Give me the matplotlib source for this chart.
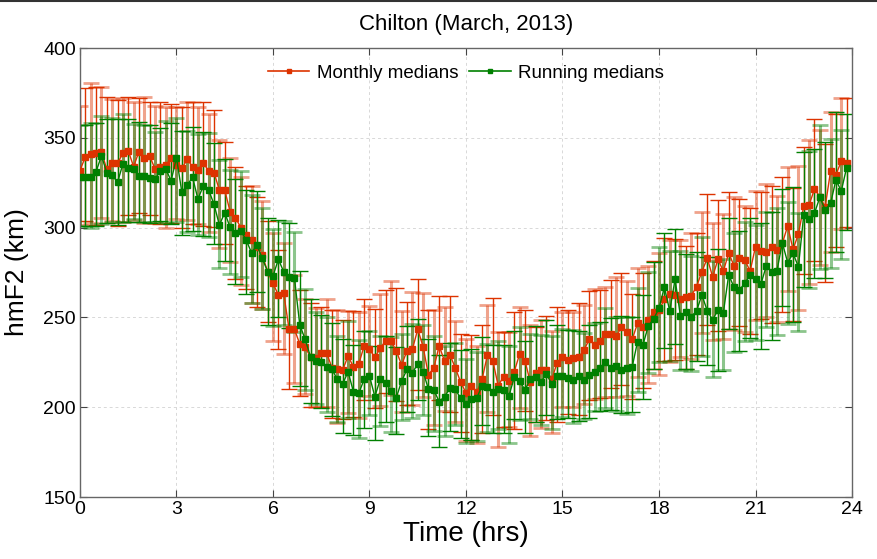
import numpy as np
import matplotlib
matplotlib.use("Agg")
import matplotlib.pyplot as plt
from matplotlib.lines import Line2D

# 10-minute samples over one day (0 .. 23h50)
hours = np.arange(144) / 6.0

# Monthly medians (km), 12 values per 2-hour row
monthly = [
    331.7, 339.5, 340.8, 341.4, 342.3, 332.5, 335.8, 335.8, 341.4, 342.8, 334.0, 342.3,
    338.6, 339.9, 332.6, 333.9, 334.9, 338.6, 335.0, 333.0, 338.0, 333.9, 332.1, 336.1,
    331.5, 330.6, 320.9, 320.9, 308.9, 305.5, 300.0, 296.0, 293.0, 289.0, 284.7, 275.5,
    269.0, 262.5, 263.4, 243.4, 243.4, 235.2, 233.3, 228.1, 227.2, 230.0, 230.3, 222.0,
    221.2, 220.7, 228.5, 222.5, 224.1, 234.1, 232.2, 227.8, 232.8, 237.0, 237.0, 231.3,
    223.5, 231.5, 232.2, 243.4, 233.7, 218.0, 222.0, 234.1, 225.7, 229.1, 222.0, 214.0,
    208.0, 212.0, 208.3, 215.5, 229.1, 225.9, 212.0, 217.0, 214.8, 219.8, 229.6, 225.9,
    213.9, 218.9, 220.7, 220.7, 215.5, 224.8, 228.1, 226.3, 227.2, 227.8, 231.8, 237.8,
    234.6, 237.0, 240.8, 240.8, 239.6, 244.5, 242.0, 237.8, 246.7, 244.5, 248.5, 253.2,
    254.1, 260.0, 263.0, 262.5, 260.0, 261.5, 262.0, 267.1, 275.5, 282.9, 272.7, 282.3,
    275.8, 285.7, 278.8, 283.2, 282.0, 275.8, 289.4, 287.1, 286.2, 289.0, 287.5, 291.2,
    300.9, 287.9, 296.4, 312.0, 312.6, 321.5, 317.2, 311.6, 331.5, 329.3, 337.1, 336.2,
]
monthly_up = [
    36, 38, 40, 37, 36, 40, 36, 35, 31, 30, 36, 30,
    34, 30, 35, 36, 32, 30, 32, 34, 32, 36, 35, 34,
    32, 35, 28, 27, 30, 28, 28, 27, 30, 28, 30, 28,
    28, 25, 28, 30, 30, 30, 27, 30, 28, 26, 30, 32,
    33, 28, 25, 31, 29, 26, 24, 27, 30, 28, 33, 35,
    30, 27, 32, 28, 30, 36, 32, 28, 30, 33, 26, 27,
    30, 28, 26, 30, 28, 35, 30, 25, 27, 33, 26, 28,
    32, 26, 28, 30, 27, 31, 25, 28, 26, 30, 25, 27,
    31, 28, 26, 30, 33, 30, 28, 25, 31, 30, 30, 28,
    32, 34, 30, 31, 33, 28, 35, 30, 33, 36, 30, 33,
    32, 34, 38, 33, 30, 35, 31, 33, 38, 34, 30, 37,
    33, 34, 38, 33, 36, 39, 37, 35, 33, 34, 35, 36,
]
monthly_dn = [
    30, 36, 38, 40, 37, 30, 32, 35, 38, 36, 30, 34,
    36, 33, 30, 32, 35, 36, 30, 33, 34, 32, 30, 35,
    34, 30, 32, 30, 28, 34, 32, 30, 35, 33, 30, 28,
    32, 30, 34, 33, 30, 29, 26, 28, 27, 30, 30, 28,
    30, 27, 32, 28, 30, 30, 26, 28, 32, 29, 30, 28,
    26, 30, 31, 34, 28, 30, 32, 30, 28, 32, 30, 28,
    27, 30, 28, 30, 32, 30, 34, 28, 26, 32, 30, 28,
    30, 27, 32, 28, 30, 33, 28, 30, 27, 32, 30, 34,
    30, 32, 35, 30, 34, 32, 36, 33, 30, 34, 35, 32,
    36, 34, 38, 36, 32, 40, 35, 38, 34, 37, 35, 40,
    38, 42, 36, 38, 40, 35, 41, 38, 36, 42, 40, 38,
    36, 40, 42, 38, 44, 40, 38, 42, 45, 40, 38, 36,
]

# Running medians (km)
running = [
    328.0, 328.0, 328.0, 331.1, 340.0, 330.6, 329.3, 325.2, 335.4, 333.4, 332.6, 328.9,
    328.9, 327.4, 327.1, 331.5, 332.6, 326.1, 338.9, 319.7, 323.7, 328.0, 315.9, 323.2,
    320.9, 313.0, 301.4, 308.3, 300.2, 296.8, 298.3, 293.1, 286.0, 290.3, 282.9, 275.5,
    273.0, 282.3, 275.5, 272.3, 271.8, 245.8, 237.8, 228.1, 225.9, 225.4, 222.5, 221.1,
    215.5, 212.9, 219.8, 208.7, 207.7, 215.5, 217.4, 205.9, 215.5, 213.7, 209.2, 205.3,
    214.6, 221.1, 219.2, 224.1, 219.8, 210.0, 209.6, 203.1, 205.9, 210.5, 210.0, 205.0,
    202.0, 204.6, 205.0, 212.0, 211.4, 208.7, 210.1, 209.6, 206.2, 216.6, 214.6, 209.6,
    215.7, 217.0, 214.2, 218.5, 212.9, 217.6, 217.6, 216.1, 215.2, 217.4, 215.2, 218.0,
    219.8, 221.7, 225.4, 221.7, 223.1, 220.7, 222.0, 222.5, 236.5, 234.6, 245.2, 249.1,
    255.1, 266.8, 253.7, 271.2, 250.8, 253.2, 250.4, 253.6, 262.5, 253.7, 248.6, 254.1,
    252.7, 273.6, 266.8, 265.3, 269.0, 273.6, 271.2, 268.4, 278.6, 275.5, 276.0, 291.6,
    280.5, 285.7, 278.2, 307.0, 304.6, 308.0, 316.9, 309.8, 313.5, 326.5, 320.4, 333.4,
]
running_up = [
    29, 29, 30, 27, 22, 30, 32, 35, 28, 27, 25, 30,
    28, 30, 26, 24, 27, 32, 22, 34, 30, 28, 36, 30,
    32, 34, 36, 30, 32, 30, 33, 28, 32, 30, 28, 30,
    26, 22, 28, 30, 26, 30, 28, 32, 27, 26, 28, 26,
    24, 25, 28, 26, 30, 27, 25, 28, 24, 26, 30, 28,
    26, 24, 27, 25, 26, 28, 30, 26, 28, 25, 26, 27,
    25, 28, 26, 27, 24, 26, 27, 25, 28, 26, 30, 27,
    25, 28, 26, 30, 27, 28, 26, 27, 28, 25, 26, 28,
    27, 26, 30, 28, 27, 30, 28, 28, 30, 28, 30, 32,
    34, 30, 33, 28, 36, 32, 34, 33, 32, 30, 33, 34,
    30, 32, 30, 33, 34, 32, 30, 34, 30, 33, 35, 30,
    34, 37, 30, 35, 38, 36, 40, 38, 36, 38, 34, 30,
]
running_dn = [
    27, 27, 28, 30, 38, 28, 26, 24, 32, 30, 28, 26,
    26, 25, 24, 28, 30, 24, 36, 24, 26, 30, 20, 28,
    26, 22, 24, 27, 26, 28, 26, 30, 28, 26, 28, 30,
    28, 32, 30, 28, 30, 34, 28, 26, 24, 26, 25, 26,
    24, 27, 26, 24, 25, 27, 22, 24, 26, 22, 23, 20,
    22, 24, 25, 20, 24, 26, 23, 25, 22, 24, 20, 22,
    22, 23, 24, 22, 25, 23, 22, 24, 26, 23, 22, 24,
    22, 25, 24, 23, 25, 24, 23, 22, 24, 25, 22, 24,
    22, 24, 26, 23, 25, 24, 26, 25, 28, 30, 26, 28,
    30, 34, 28, 36, 30, 32, 30, 28, 34, 30, 32, 34,
    32, 30, 36, 34, 32, 35, 34, 36, 34, 38, 36, 35,
    34, 38, 36, 40, 38, 36, 40, 38, 36, 40, 38, 35,
]

xticks = [0, 3, 6, 9, 12, 15, 18, 21, 24]
yticks = [150, 200, 250, 300, 350, 400]

RED = "#dd3300"
GREEN = "#008000"
plt.rcParams["font.family"] = ["Liberation Sans", "DejaVu Sans"]


def draw_series(ax, y, dn, up, color):
    y = np.asarray(y)
    err = np.array([dn, up])
    # alternate soft/solid bars like the original rendering
    ax.errorbar(hours[::2], y[::2], yerr=err[:, ::2], fmt="none", ecolor=color,
                elinewidth=2.2, capsize=6, capthick=2.0, alpha=0.45, zorder=2)
    ax.errorbar(hours[1::2], y[1::2], yerr=err[:, 1::2], fmt="none", ecolor=color,
                elinewidth=1.0, capsize=6, capthick=1.0, zorder=2)
    ax.plot(hours, y, "-s", color=color, lw=1.0, ms=3.8, zorder=3)


fig = plt.figure(figsize=(8.77, 5.59), dpi=100)
ax = fig.add_axes([0.0912, 0.1109, 0.8803, 0.8032])

draw_series(ax, monthly, monthly_dn, monthly_up, RED)
draw_series(ax, running, running_dn, running_up, GREEN)

ax.set_xlim(0, 24)
ax.set_ylim(150, 400)
ax.set_xticks(xticks)
ax.set_yticks(yticks)
ax.tick_params(direction="in", top=True, right=True, length=5, labelsize=14,
               color="#444444", pad=3)
ax.grid(True, linestyle=(0, (3, 3)), color="#d8d8d8", lw=0.7)
ax.set_axisbelow(True)
for s in ax.spines.values():
    s.set_color("#666666")
    s.set_linewidth(1.0)

ax.set_title("Chilton (March, 2013)", fontsize=16, pad=13)
ax.set_xlabel("Time (hrs)", fontsize=20, labelpad=2)
ax.set_ylabel("hmF2 (km)", fontsize=19, labelpad=10)

handles = [
    Line2D([], [], color=RED, marker="s", ms=3.5, lw=1.2),
    Line2D([], [], color=GREEN, marker="s", ms=3.5, lw=1.2),
]
ax.legend(handles, ["Monthly medians", "Running medians"], loc="upper center",
          bbox_to_anchor=(0.5, 1.0), ncol=2, frameon=False, fontsize=13.5,
          handlelength=2.2, handletextpad=0.4, columnspacing=0.6)

fig.add_artist(Line2D([0, 1], [0.998, 0.998], transform=fig.transFigure,
                      color="#333333", lw=1.5))

fig.savefig("out.png", dpi=100)
